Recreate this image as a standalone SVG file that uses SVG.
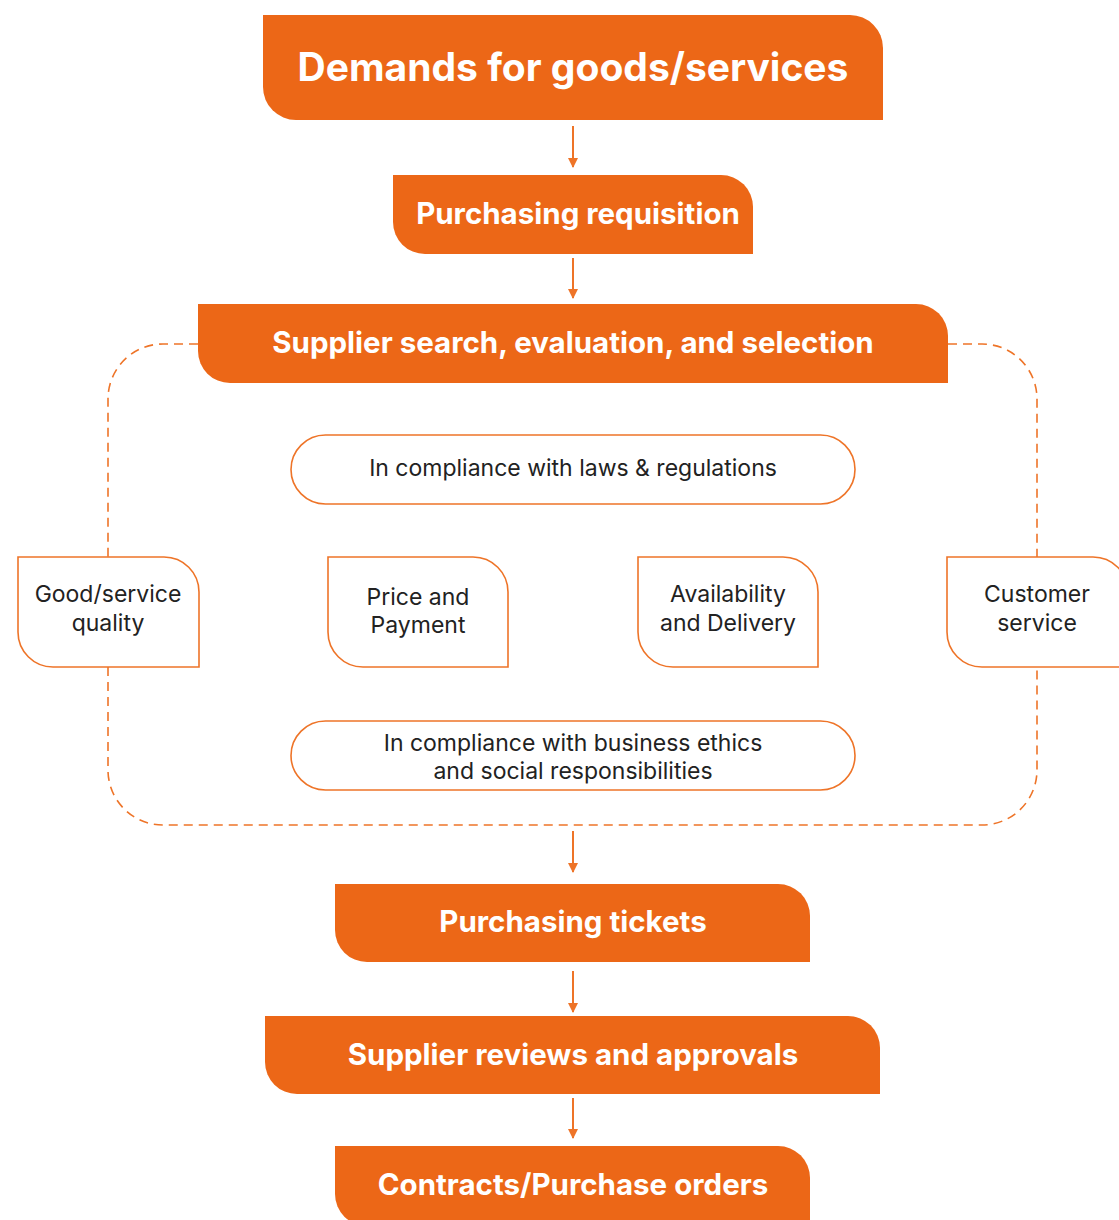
<svg xmlns="http://www.w3.org/2000/svg" width="1119" height="1220" viewBox="0 0 1119 1220">
<defs>
<style>
.main{fill:#EC6717}
.mt{fill:#fff;font-family:Inter,"Liberation Sans",sans-serif;font-weight:700;text-anchor:middle;font-size:29.5px}
.sub{fill:#fff;stroke:#EE7428;stroke-width:1.6}
.st{fill:#222;font-family:Inter,"Liberation Sans",sans-serif;font-size:23px;text-anchor:middle}
.conn{stroke:#EE7428;stroke-width:2;fill:none}
.dash{stroke:#EE7428;stroke-width:1.6;fill:none;stroke-dasharray:9 6}
</style>
<marker id="ah" viewBox="0 0 10 10" refX="9" refY="5" markerWidth="10" markerHeight="10" markerUnits="userSpaceOnUse" orient="auto">
<path d="M0,0 L10,5 L0,10 z" fill="#EE7428"/>
</marker>
</defs>
<rect width="1119" height="1220" fill="#fff"/>
<g id="connectors">
<path class="dash" d="M198,344 H163 A55,55 0 0 0 108,399 V557"/>
<path class="dash" d="M108,667 V770 A55,55 0 0 0 163,825 H982 A55,55 0 0 0 1037,770 V667"/>
<path class="dash" d="M948,344 H982 A55,55 0 0 1 1037,399 V557"/>
<line class="conn" x1="573" y1="126" x2="573" y2="167" marker-end="url(#ah)"/>
<line class="conn" x1="573" y1="258" x2="573" y2="298" marker-end="url(#ah)"/>
<line class="conn" x1="573" y1="831" x2="573" y2="872" marker-end="url(#ah)"/>
<line class="conn" x1="573" y1="971" x2="573" y2="1012" marker-end="url(#ah)"/>
<line class="conn" x1="573" y1="1098" x2="573" y2="1138" marker-end="url(#ah)"/>
</g>
<g id="n1"><path class="main" d="M263,15 H850 A33,33 0 0 1 883,48 V120 H296 A33,33 0 0 1 263,87 Z"/><text class="mt" x="573" y="81" style="font-size:39px">Demands for goods/services</text></g>
<g id="n2"><path class="main" d="M393,175 H721 A32,32 0 0 1 753,207 V254 H425 A32,32 0 0 1 393,222 Z"/><text class="mt" x="578" y="224">Purchasing requisition</text></g>
<g id="n3"><path class="main" d="M198,304 H916 A32,32 0 0 1 948,336 V383 H230 A32,32 0 0 1 198,351 Z"/><text class="mt" x="573" y="353">Supplier search, evaluation, and selection</text></g>
<g id="n4"><rect class="sub" x="291" y="435" width="564" height="69" rx="34.5"/><text class="st" x="573" y="476">In compliance with laws &amp; regulations</text></g>
<g id="n5"><path class="sub" d="M18,557 H164 A35,35 0 0 1 199,592 V667 H53 A35,35 0 0 1 18,632 Z"/><text class="st" x="108" y="602">Good/service</text><text class="st" x="108" y="631">quality</text></g>
<g id="n6"><path class="sub" d="M328,557 H473 A35,35 0 0 1 508,592 V667 H363 A35,35 0 0 1 328,632 Z"/><text class="st" x="418" y="605">Price and</text><text class="st" x="418" y="633">Payment</text></g>
<g id="n7"><path class="sub" d="M638,557 H783 A35,35 0 0 1 818,592 V667 H673 A35,35 0 0 1 638,632 Z"/><text class="st" x="728" y="602">Availability</text><text class="st" x="728" y="631">and Delivery</text></g>
<g id="n8"><path class="sub" d="M947,557 H1093 A35,35 0 0 1 1128,592 V667 H982 A35,35 0 0 1 947,632 Z"/><text class="st" x="1037" y="602">Customer</text><text class="st" x="1037" y="631">service</text></g>
<g id="n9"><rect class="sub" x="291" y="721" width="564" height="69" rx="34.5"/><text class="st" x="573" y="751">In compliance with business ethics</text><text class="st" x="573" y="779">and social responsibilities</text></g>
<g id="n10"><path class="main" d="M335,884 H778 A32,32 0 0 1 810,916 V962 H367 A32,32 0 0 1 335,930 Z"/><text class="mt" x="573" y="932">Purchasing tickets</text></g>
<g id="n11"><path class="main" d="M265,1016 H848 A32,32 0 0 1 880,1048 V1094 H297 A32,32 0 0 1 265,1062 Z"/><text class="mt" x="573" y="1065">Supplier reviews and approvals</text></g>
<g id="n12"><path class="main" d="M335,1146 H778 A32,32 0 0 1 810,1178 V1226 H367 A32,32 0 0 1 335,1194 Z"/><text class="mt" x="573" y="1195">Contracts/Purchase orders</text></g>
</svg>
